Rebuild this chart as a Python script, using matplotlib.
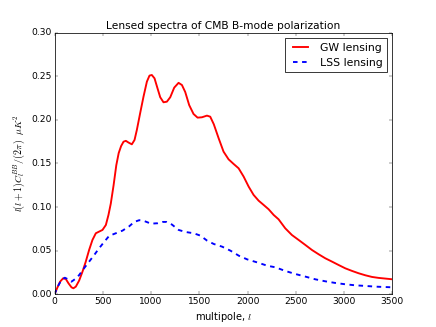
import matplotlib
matplotlib.use("Agg")
import matplotlib.pyplot as plt

plt.style.use("classic")

gw_ell = [0, 31, 58, 89, 117, 145, 176, 196, 221, 255, 290, 324, 359, 393, 428, 462,
          497, 532, 559, 583, 612, 640, 665, 690, 715, 739, 767, 801, 829, 853, 887,
          922, 957, 984, 1008, 1036, 1067, 1095, 1129, 1164, 1199, 1240, 1285, 1320,
          1354, 1395, 1440, 1482, 1527, 1579, 1613, 1650, 1700, 1751, 1803, 1855,
          1907, 1959, 2011, 2062, 2114, 2166, 2218, 2270, 2321, 2390, 2459, 2529,
          2598, 2667, 2736, 2805, 2874, 2943, 3012, 3082, 3151, 3220, 3289, 3358,
          3430, 3500]
gw_cl = [0.0, 0.008, 0.0145, 0.0183, 0.0176, 0.0126, 0.008, 0.0069, 0.0088, 0.0157,
         0.026, 0.0375, 0.051, 0.0623, 0.070, 0.0719, 0.0738, 0.0795, 0.091, 0.104,
         0.125, 0.148, 0.162, 0.170, 0.175, 0.176, 0.174, 0.172, 0.177, 0.1885,
         0.2076, 0.2267, 0.2439, 0.2508, 0.2515, 0.2477, 0.2362, 0.226, 0.2202,
         0.2209, 0.226, 0.237, 0.2425, 0.240, 0.232, 0.217, 0.2068, 0.2026, 0.203,
         0.2049, 0.2037, 0.195, 0.179, 0.1636, 0.1548, 0.1495, 0.1445, 0.135, 0.1235,
         0.114, 0.1074, 0.1025, 0.0975, 0.091, 0.086, 0.0757, 0.068, 0.0623, 0.0566,
         0.0508, 0.0459, 0.0413, 0.0375, 0.0336, 0.0298, 0.0268, 0.0241, 0.0218,
         0.0199, 0.0188, 0.018, 0.0172]

lss_ell = [0, 37, 72, 107, 141, 176, 210, 255, 307, 359, 411, 462, 514, 566, 635, 704,
           774, 826, 878, 930, 1000, 1069, 1120, 1160, 1216, 1286, 1355, 1442, 1511,
           1581, 1650, 1737, 1823, 1910, 1997, 2102, 2206, 2287, 2390, 2494, 2598,
           2701, 2805, 2909, 3012, 3116, 3220, 3323, 3500]
lss_cl = [0.0, 0.0096, 0.0164, 0.019, 0.0172, 0.0145, 0.0172, 0.022, 0.030, 0.0375,
          0.045, 0.0528, 0.060, 0.067, 0.070, 0.073, 0.078, 0.083, 0.085, 0.084, 0.081,
          0.0815, 0.083, 0.083, 0.080, 0.0738, 0.0715, 0.070, 0.0673, 0.0615, 0.0577,
          0.0546, 0.050, 0.0442, 0.040, 0.0365, 0.0327, 0.031, 0.0268, 0.0233, 0.0203,
          0.0172, 0.0149, 0.0130, 0.0115, 0.0103, 0.0096, 0.0088, 0.0080]

fig = plt.figure(figsize=(8, 6), dpi=54.5)
ax = fig.add_subplot(111)
ax.plot(gw_ell, gw_cl, color="red", lw=2.5, ls="-", label="GW lensing")
ax.plot(lss_ell, lss_cl, color="blue", lw=2.5, ls="--", label="LSS lensing")
ax.set_xlim(0, 3500)
ax.set_ylim(0, 0.30)
ax.set_xlabel(r"multipole, $l$", fontsize=13)
ax.set_ylabel(r"$l(l+1)C_l^{BB}/(2\pi)\ \ \mu K^2$", fontsize=13)
ax.set_title("Lensed spectra of CMB B-mode polarization", fontsize=14)
ax.legend(loc="upper right")
fig.savefig("out.png", dpi=54.5)
